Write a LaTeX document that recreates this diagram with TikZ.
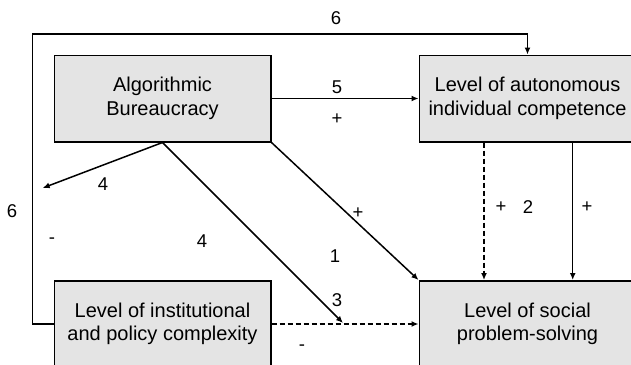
\documentclass[tikz,border=0pt]{standalone}
\usepackage{fontspec}
\setmainfont{Liberation Sans}
\usetikzlibrary{arrows.meta}
\definecolor{boxfill}{HTML}{E4E4E4}
\tikzset{
  factor/.style={draw, line width=1.6pt, fill=boxfill, align=center,
    minimum width=216.4pt, minimum height=86.4pt, inner sep=0pt,
    font=\fontsize{20}{23.5}\selectfont},
  arr/.style={line width=1.5pt, -{Latex[length=7pt,width=6pt]}},
  dashline/.style={dash pattern=on 5pt off 3pt},
  lbl/.style={font=\fontsize{18.5}{20}\selectfont, inner sep=0pt}
}
\begin{document}
\begin{tikzpicture}[x=1pt,y=-1pt]
  \useasboundingbox (0,0) rectangle (631,364);
  \clip (0,0) rectangle (631,364);

  \node[factor] (alg) at (162.5,98.5) {Algorithmic\\Bureaucracy};
  \node[factor] (auto) at (527.5,98.5) {Level of autonomous\\individual competence};
  \node[factor] (inst) at (162.5,324) {Level of institutional\\and policy complexity};
  \node[factor] (social) at (527.5,324) {Level of social\\problem-solving};

  \coordinate (side) at (42.7,188);
  \coordinate (meet) at (343,323);

  % feedback loop round the left
  \draw[arr] (inst.west) -| (32.7,34) -| (auto.north);
  \node[lbl] (n6a) at (336,18) {6};
  \node[lbl] (n6b) at (12,211) {6};
  \node[lbl] (m6) at (52,241) {-};

  \draw[arr] (alg.east) -- (auto.west);
  \node[lbl] (n5) at (337,87) {5};
  \node[lbl] (p5) at (337,119) {+};

  \draw[arr] (alg.south) -- (side);
  \node[lbl] (n4a) at (103,184) {4};

  \draw[arr] (alg.south) -- (meet);
  \node[lbl] (n4b) at (202,241) {4};
  \node[lbl] (n3) at (337,300) {3};

  \draw[arr] (alg.south east) -- (social.north west);
  \node[lbl] (p1) at (358,213) {+};
  \node[lbl] (n1) at (335,256) {1};

  \draw[arr, dashline] ([xshift=-43.5pt]auto.south) -- ([xshift=-43.5pt]social.north);
  \node[lbl] (p2) at (501,207) {+};
  \node[lbl] (n2) at (528,207) {2};

  \draw[arr] ([xshift=45.2pt]auto.south) -- ([xshift=45.2pt]social.north);
  \node[lbl] (p7) at (587,207) {+};

  \draw[arr, dashline] (inst.east) -- (social.west);
  \node[lbl] (m3) at (302,348) {-};
\end{tikzpicture}
\end{document}
